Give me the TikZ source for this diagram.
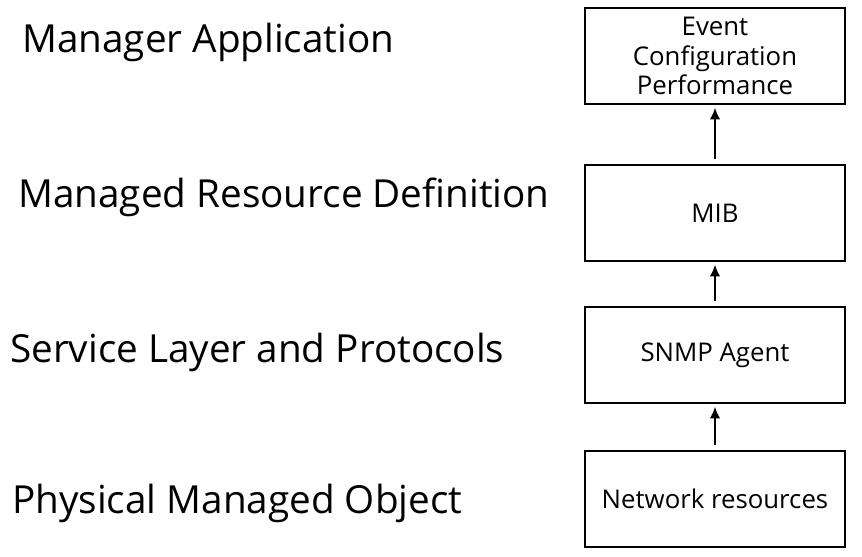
\documentclass[tikz,border=0pt]{standalone}
\usepackage{fontspec}
\setmainfont{Open Sans}
\usetikzlibrary{positioning,arrows.meta}
\tikzset{
  layer/.style={draw, line width=1.6pt, minimum width=7.8cm, minimum height=2.9cm, align=center, font=\fontsize{22}{25}\selectfont, inner sep=0pt},
  lbl/.style={anchor=west, font=\fontsize{33}{38}\selectfont, inner sep=0pt},
  up/.style={-{Latex[length=10pt,width=9pt]}, line width=2.4pt, shorten <=4pt, shorten >=2pt}
}
\begin{document}
\begin{tikzpicture}[x=0.03cm,y=-0.03cm]
    \useasboundingbox (0,0) rectangle (862,557);
    % boxes on the right
    \node[layer] (app) at (715,56) {Event\\Configuration\\Performance};
    \node[layer] (mib) at (715,213) {MIB};
    \node[layer] (agent) at (715,355) {SNMP Agent};
    \node[layer] (res) at (715,499) {Network resources};

    \draw[up] (res) -- (agent);
    \draw[up] (agent) -- (mib);
    \draw[up] (mib) -- (app);

    % labels on the left
    \node[lbl] (l1) at (22,42) {Manager Application};
    \node[lbl] (l2) at (18,197) {Managed Resource Definition};
    \node[lbl] (l3) at (10,352) {Service Layer and Protocols};
    \node[lbl] (l4) at (12,503) {Physical Managed Object};
\end{tikzpicture}
\end{document}
